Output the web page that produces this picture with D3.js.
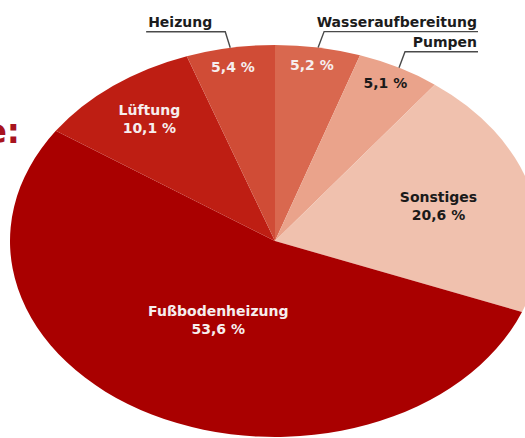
<!DOCTYPE html>
<html>
<head>
<meta charset="utf-8">
<script src="https://cdn.jsdelivr.net/npm/d3@7"></script>
<style>
  body { margin: 0; background: #fff; }
  svg { display: block; }
  text { font-family: "DejaVu Sans", Verdana, sans-serif; font-weight: bold; }
</style>
</head>
<body>
<svg id="chart"></svg>
<script>
// data, clockwise from 12 o'clock
const categories = ["Wasseraufbereitung", "Pumpen", "Sonstiges", "Fußbodenheizung", "Lüftung", "Heizung"];
const values = [5.2, 5.1, 20.6, 53.6, 10.1, 5.4];
const outside = ["Wasseraufbereitung", "Pumpen", "Heizung"];   // name outside with leader line
const colors = ["#d9684f", "#eaa38b", "#f0c1ae", "#a90000", "#be1e13", "#d04c36"];
const darkText = ["Pumpen", "Sonstiges"];

const width = 525, height = 438;
const cx = 275, cy = 241, rx = 265, ry = 196;
const k = ry / rx;

const svg = d3.select("#chart").attr("width", width).attr("height", height);

const de = d3.formatLocale({ decimal: ",", thousands: ".", grouping: [3], currency: ["", " €"] });
const fmt = v => de.format(".1f")(v) + " %";

const data = categories.map((c, i) => ({ name: c, value: values[i], color: colors[i] }));

const pie = d3.pie().value(d => d.value).sort(null);
const arcs = pie(data);
const arc = d3.arc().innerRadius(0).outerRadius(rx);

// pie is a circle squashed vertically
svg.append("g")
    .attr("transform", `translate(${cx},${cy}) scale(1,${k})`)
    .selectAll("path")
    .data(arcs)
    .join("path")
    .attr("d", arc)
    .attr("fill", d => d.data.color);

// point on the squashed circle
function pt(angle, r) {
    return [cx + r * Math.sin(angle), cy - r * Math.cos(angle) * k];
}
const mid = d => (d.startAngle + d.endAngle) / 2;

// bigger slices get their label closer to the centre
const labelR = d3.scaleLog().domain([5, 53.6]).range([0.91, 0.46]);

const labels = svg.append("g");
arcs.forEach(d => {
    const [x, y] = pt(mid(d), labelR(d.data.value) * rx);
    const isOut = outside.includes(d.data.name);
    const t = labels.append("text")
        .attr("text-anchor", "middle")
        .attr("font-size", 14)
        .attr("fill", darkText.includes(d.data.name) ? "#1a1a1a" : "#f6eeee");
    if (isOut) {
        t.attr("x", x - 2).attr("y", y + 4).text(fmt(d.data.value));
    } else {
        t.append("tspan").attr("x", x).attr("y", y - 5).text(d.data.name);
        t.append("tspan").attr("x", x).attr("y", y + 13).text(fmt(d.data.value));
    }
});

// outside names with leader lines
const rightEdge = 477;
arcs.filter(d => outside.includes(d.data.name)).forEach(d => {
    const a = mid(d);
    const [ex, ey] = pt(a, rx);
    const right = Math.sin(a) > 0;
    const elbow = [ex + (right ? 6 : -5), ey - 16];
    const t = svg.append("text")
        .attr("font-size", 14)
        .attr("fill", "#1c1c1c")
        .attr("y", elbow[1] - 5)
        .text(d.data.name);
    let x0, x1;
    if (right) {
        t.attr("text-anchor", "end").attr("x", rightEdge);
        x0 = elbow[0]; x1 = rightEdge + 1;
    } else {
        t.attr("text-anchor", "end").attr("x", elbow[0] - 13);
        const w = t.node().getComputedTextLength();
        x0 = elbow[0] - 13 - w - 2; x1 = elbow[0];
    }
    svg.append("path")
        .attr("d", `M${ex},${ey}L${elbow[0]},${elbow[1]}` +
            (right ? `L${x1},${elbow[1]}` : `L${x0},${elbow[1]}`))
        .attr("fill", "none")
        .attr("stroke", "#4a4a4a")
        .attr("stroke-width", 1.4);
});

// cropped heading fragment on the left
svg.append("text")
    .attr("x", 20)
    .attr("y", 143)
    .attr("text-anchor", "end")
    .attr("font-size", 33)
    .attr("fill", "#a8141e")
    .text("e:");
</script>
</body>
</html>
